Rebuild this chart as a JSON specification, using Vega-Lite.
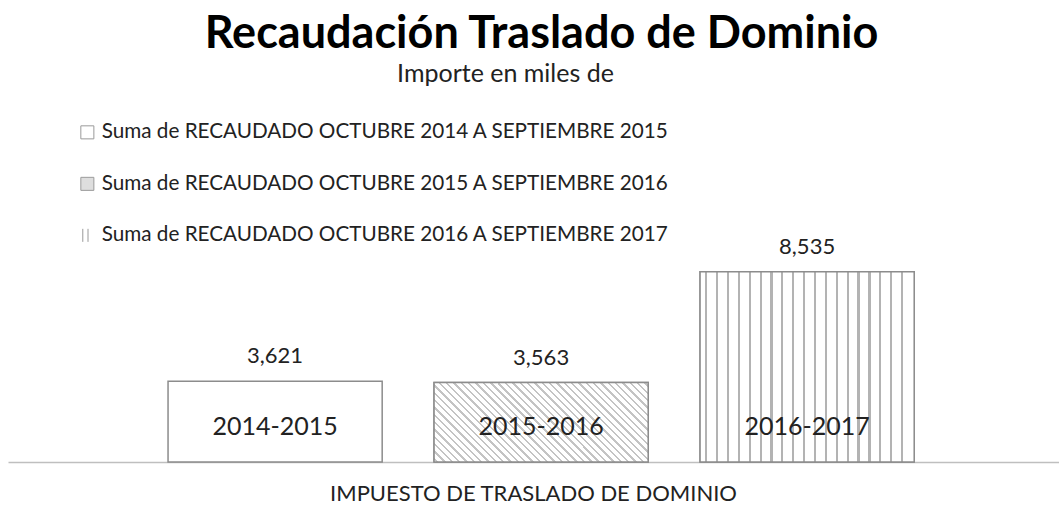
{
"$schema":"https://vega.github.io/schema/vega-lite/v6.json",
"width":1051,"height":223,
"padding":{"left":8,"top":12,"right":0,"bottom":0},
"autosize":{"type":"pad"},
"background":"#ffffff",
"config":{"view":{"stroke":null},"font":"Lato"},
"title":{"text":"Recaudación Traslado de Dominio","subtitle":"Importe en miles de\u2800\u2800\u2800\u2800","anchor":"middle","frame":"group","dx":8,"font":"Lato","fontSize":45,"fontWeight":"bold","color":"#000000","subtitleFont":"Lato","subtitleFontSize":25,"subtitleColor":"#222222","subtitlePadding":5,"offset":35},
"data":{"values":[
{"impuesto":"IMPUESTO DE TRASLADO DE DOMINIO","serie":"Suma de RECAUDADO OCTUBRE 2014 A SEPTIEMBRE 2015","periodo":"2014-2015","valor":3621},
{"impuesto":"IMPUESTO DE TRASLADO DE DOMINIO","serie":"Suma de RECAUDADO OCTUBRE 2015 A SEPTIEMBRE 2016","periodo":"2015-2016","valor":3563},
{"impuesto":"IMPUESTO DE TRASLADO DE DOMINIO","serie":"Suma de RECAUDADO OCTUBRE 2016 A SEPTIEMBRE 2017","periodo":"2016-2017","valor":8535}
]},
"encoding":{
"x":{"field":"impuesto","type":"nominal","scale":{"paddingInner":0,"paddingOuter":0},"axis":{"title":null,"labelAngle":0,"ticks":false,"domainColor":"#bfbfbf","domainWidth":1.5,"labelFontSize":22,"labelColor":"#222222","labelPadding":21,"labelFont":"Lato","labelLimit":1000}},
"xOffset":{"field":"serie","type":"nominal","scale":{"paddingInner":0.195,"paddingOuter":0.573,"align":0.525}},
"y":{"field":"valor","type":"quantitative","scale":{"domain":[0,10000],"nice":false},"axis":null}
},
"layer":[
{"mark":{"type":"bar","stroke":"#8c8c8c","strokeWidth":1.5},
 "encoding":{"color":{"field":"serie","type":"nominal","scale":{"range":["#ffffff","#dedede","#ffffff"]},
  "legend":{"orient":"none","legendX":69,"legendY":-117,"title":null,"labelFontSize":20.7,"labelColor":"#222222","labelFont":"Lato","symbolType":"square","symbolSize":170,"symbolStrokeColor":"#8c8c8c","symbolStrokeWidth":1,"rowPadding":29.5,"labelOffset":4,"labelLimit":900,
   "encode":{"symbols":{"update":{"shape":{"signal":"indexof(datum.label,'2016 A') >= 0 ? 'M-0.7,-1L-0.7,1M0.1,-1L0.1,1' : 'square'"},"stroke":{"value":"#9a9a9a"}}}}}}}},
{"transform":[{"filter":"datum.periodo === '2015-2016'"}],
 "mark":{"type":"bar","stroke":"#8c8c8c","strokeWidth":1.5,"fill":{"gradient":"linear","x1":0,"y1":1,"x2":1.205,"y2":0.553,"stops":[
{"offset":0,"color":"#fff"},
{"offset":0.0085,"color":"#fff"},{"offset":0.0085,"color":"#c4c4c4"},{"offset":0.0165,"color":"#c4c4c4"},{"offset":0.0165,"color":"#fff"},
{"offset":0.0335,"color":"#fff"},{"offset":0.0335,"color":"#c4c4c4"},{"offset":0.0415,"color":"#c4c4c4"},{"offset":0.0415,"color":"#fff"},
{"offset":0.0585,"color":"#fff"},{"offset":0.0585,"color":"#c4c4c4"},{"offset":0.0665,"color":"#c4c4c4"},{"offset":0.0665,"color":"#fff"},
{"offset":0.0835,"color":"#fff"},{"offset":0.0835,"color":"#c4c4c4"},{"offset":0.0915,"color":"#c4c4c4"},{"offset":0.0915,"color":"#fff"},
{"offset":0.1085,"color":"#fff"},{"offset":0.1085,"color":"#c4c4c4"},{"offset":0.1165,"color":"#c4c4c4"},{"offset":0.1165,"color":"#fff"},
{"offset":0.1335,"color":"#fff"},{"offset":0.1335,"color":"#c4c4c4"},{"offset":0.1415,"color":"#c4c4c4"},{"offset":0.1415,"color":"#fff"},
{"offset":0.1585,"color":"#fff"},{"offset":0.1585,"color":"#c4c4c4"},{"offset":0.1665,"color":"#c4c4c4"},{"offset":0.1665,"color":"#fff"},
{"offset":0.1835,"color":"#fff"},{"offset":0.1835,"color":"#c4c4c4"},{"offset":0.1915,"color":"#c4c4c4"},{"offset":0.1915,"color":"#fff"},
{"offset":0.2085,"color":"#fff"},{"offset":0.2085,"color":"#c4c4c4"},{"offset":0.2165,"color":"#c4c4c4"},{"offset":0.2165,"color":"#fff"},
{"offset":0.2335,"color":"#fff"},{"offset":0.2335,"color":"#c4c4c4"},{"offset":0.2415,"color":"#c4c4c4"},{"offset":0.2415,"color":"#fff"},
{"offset":0.2585,"color":"#fff"},{"offset":0.2585,"color":"#c4c4c4"},{"offset":0.2665,"color":"#c4c4c4"},{"offset":0.2665,"color":"#fff"},
{"offset":0.2835,"color":"#fff"},{"offset":0.2835,"color":"#c4c4c4"},{"offset":0.2915,"color":"#c4c4c4"},{"offset":0.2915,"color":"#fff"},
{"offset":0.3085,"color":"#fff"},{"offset":0.3085,"color":"#c4c4c4"},{"offset":0.3165,"color":"#c4c4c4"},{"offset":0.3165,"color":"#fff"},
{"offset":0.3335,"color":"#fff"},{"offset":0.3335,"color":"#c4c4c4"},{"offset":0.3415,"color":"#c4c4c4"},{"offset":0.3415,"color":"#fff"},
{"offset":0.3585,"color":"#fff"},{"offset":0.3585,"color":"#c4c4c4"},{"offset":0.3665,"color":"#c4c4c4"},{"offset":0.3665,"color":"#fff"},
{"offset":0.3835,"color":"#fff"},{"offset":0.3835,"color":"#c4c4c4"},{"offset":0.3915,"color":"#c4c4c4"},{"offset":0.3915,"color":"#fff"},
{"offset":0.4085,"color":"#fff"},{"offset":0.4085,"color":"#c4c4c4"},{"offset":0.4165,"color":"#c4c4c4"},{"offset":0.4165,"color":"#fff"},
{"offset":0.4335,"color":"#fff"},{"offset":0.4335,"color":"#c4c4c4"},{"offset":0.4415,"color":"#c4c4c4"},{"offset":0.4415,"color":"#fff"},
{"offset":0.4585,"color":"#fff"},{"offset":0.4585,"color":"#c4c4c4"},{"offset":0.4665,"color":"#c4c4c4"},{"offset":0.4665,"color":"#fff"},
{"offset":0.4835,"color":"#fff"},{"offset":0.4835,"color":"#c4c4c4"},{"offset":0.4915,"color":"#c4c4c4"},{"offset":0.4915,"color":"#fff"},
{"offset":0.5085,"color":"#fff"},{"offset":0.5085,"color":"#c4c4c4"},{"offset":0.5165,"color":"#c4c4c4"},{"offset":0.5165,"color":"#fff"},
{"offset":0.5335,"color":"#fff"},{"offset":0.5335,"color":"#c4c4c4"},{"offset":0.5415,"color":"#c4c4c4"},{"offset":0.5415,"color":"#fff"},
{"offset":0.5585,"color":"#fff"},{"offset":0.5585,"color":"#c4c4c4"},{"offset":0.5665,"color":"#c4c4c4"},{"offset":0.5665,"color":"#fff"},
{"offset":0.5835,"color":"#fff"},{"offset":0.5835,"color":"#c4c4c4"},{"offset":0.5915,"color":"#c4c4c4"},{"offset":0.5915,"color":"#fff"},
{"offset":0.6085,"color":"#fff"},{"offset":0.6085,"color":"#c4c4c4"},{"offset":0.6165,"color":"#c4c4c4"},{"offset":0.6165,"color":"#fff"},
{"offset":0.6335,"color":"#fff"},{"offset":0.6335,"color":"#c4c4c4"},{"offset":0.6415,"color":"#c4c4c4"},{"offset":0.6415,"color":"#fff"},
{"offset":0.6585,"color":"#fff"},{"offset":0.6585,"color":"#c4c4c4"},{"offset":0.6665,"color":"#c4c4c4"},{"offset":0.6665,"color":"#fff"},
{"offset":0.6835,"color":"#fff"},{"offset":0.6835,"color":"#c4c4c4"},{"offset":0.6915,"color":"#c4c4c4"},{"offset":0.6915,"color":"#fff"},
{"offset":0.7085,"color":"#fff"},{"offset":0.7085,"color":"#c4c4c4"},{"offset":0.7165,"color":"#c4c4c4"},{"offset":0.7165,"color":"#fff"},
{"offset":0.7335,"color":"#fff"},{"offset":0.7335,"color":"#c4c4c4"},{"offset":0.7415,"color":"#c4c4c4"},{"offset":0.7415,"color":"#fff"},
{"offset":0.7585,"color":"#fff"},{"offset":0.7585,"color":"#c4c4c4"},{"offset":0.7665,"color":"#c4c4c4"},{"offset":0.7665,"color":"#fff"},
{"offset":0.7835,"color":"#fff"},{"offset":0.7835,"color":"#c4c4c4"},{"offset":0.7915,"color":"#c4c4c4"},{"offset":0.7915,"color":"#fff"},
{"offset":0.8085,"color":"#fff"},{"offset":0.8085,"color":"#c4c4c4"},{"offset":0.8165,"color":"#c4c4c4"},{"offset":0.8165,"color":"#fff"},
{"offset":0.8335,"color":"#fff"},{"offset":0.8335,"color":"#c4c4c4"},{"offset":0.8415,"color":"#c4c4c4"},{"offset":0.8415,"color":"#fff"},
{"offset":0.8585,"color":"#fff"},{"offset":0.8585,"color":"#c4c4c4"},{"offset":0.8665,"color":"#c4c4c4"},{"offset":0.8665,"color":"#fff"},
{"offset":0.8835,"color":"#fff"},{"offset":0.8835,"color":"#c4c4c4"},{"offset":0.8915,"color":"#c4c4c4"},{"offset":0.8915,"color":"#fff"},
{"offset":0.9085,"color":"#fff"},{"offset":0.9085,"color":"#c4c4c4"},{"offset":0.9165,"color":"#c4c4c4"},{"offset":0.9165,"color":"#fff"},
{"offset":0.9335,"color":"#fff"},{"offset":0.9335,"color":"#c4c4c4"},{"offset":0.9415,"color":"#c4c4c4"},{"offset":0.9415,"color":"#fff"},
{"offset":0.9585,"color":"#fff"},{"offset":0.9585,"color":"#c4c4c4"},{"offset":0.9665,"color":"#c4c4c4"},{"offset":0.9665,"color":"#fff"},
{"offset":0.9835,"color":"#fff"},{"offset":0.9835,"color":"#c4c4c4"},{"offset":0.9915,"color":"#c4c4c4"},{"offset":0.9915,"color":"#fff"},
{"offset":1,"color":"#fff"}]}}},
{"transform":[{"filter":"datum.periodo === '2016-2017'"}],
 "mark":{"type":"bar","stroke":"#8c8c8c","strokeWidth":1.5,"fill":{"gradient":"linear","x1":0,"y1":0,"x2":1,"y2":0,"stops":[
{"offset":0,"color":"#fff"},
{"offset":0.024,"color":"#fff"},{"offset":0.024,"color":"#b3b3b3"},{"offset":0.034,"color":"#b3b3b3"},{"offset":0.034,"color":"#fff"},
{"offset":0.0748,"color":"#fff"},{"offset":0.0748,"color":"#b3b3b3"},{"offset":0.0848,"color":"#b3b3b3"},{"offset":0.0848,"color":"#fff"},
{"offset":0.1256,"color":"#fff"},{"offset":0.1256,"color":"#b3b3b3"},{"offset":0.1356,"color":"#b3b3b3"},{"offset":0.1356,"color":"#fff"},
{"offset":0.1764,"color":"#fff"},{"offset":0.1764,"color":"#b3b3b3"},{"offset":0.1864,"color":"#b3b3b3"},{"offset":0.1864,"color":"#fff"},
{"offset":0.2272,"color":"#fff"},{"offset":0.2272,"color":"#b3b3b3"},{"offset":0.2372,"color":"#b3b3b3"},{"offset":0.2372,"color":"#fff"},
{"offset":0.278,"color":"#fff"},{"offset":0.278,"color":"#b3b3b3"},{"offset":0.288,"color":"#b3b3b3"},{"offset":0.288,"color":"#fff"},
{"offset":0.3288,"color":"#fff"},{"offset":0.3288,"color":"#b3b3b3"},{"offset":0.3388,"color":"#b3b3b3"},{"offset":0.3388,"color":"#fff"},
{"offset":0.3796,"color":"#fff"},{"offset":0.3796,"color":"#b3b3b3"},{"offset":0.3896,"color":"#b3b3b3"},{"offset":0.3896,"color":"#fff"},
{"offset":0.4304,"color":"#fff"},{"offset":0.4304,"color":"#b3b3b3"},{"offset":0.4404,"color":"#b3b3b3"},{"offset":0.4404,"color":"#fff"},
{"offset":0.4812,"color":"#fff"},{"offset":0.4812,"color":"#b3b3b3"},{"offset":0.4912,"color":"#b3b3b3"},{"offset":0.4912,"color":"#fff"},
{"offset":0.532,"color":"#fff"},{"offset":0.532,"color":"#b3b3b3"},{"offset":0.542,"color":"#b3b3b3"},{"offset":0.542,"color":"#fff"},
{"offset":0.5828,"color":"#fff"},{"offset":0.5828,"color":"#b3b3b3"},{"offset":0.5928,"color":"#b3b3b3"},{"offset":0.5928,"color":"#fff"},
{"offset":0.6336,"color":"#fff"},{"offset":0.6336,"color":"#b3b3b3"},{"offset":0.6436,"color":"#b3b3b3"},{"offset":0.6436,"color":"#fff"},
{"offset":0.6844,"color":"#fff"},{"offset":0.6844,"color":"#b3b3b3"},{"offset":0.6944,"color":"#b3b3b3"},{"offset":0.6944,"color":"#fff"},
{"offset":0.7352,"color":"#fff"},{"offset":0.7352,"color":"#b3b3b3"},{"offset":0.7452,"color":"#b3b3b3"},{"offset":0.7452,"color":"#fff"},
{"offset":0.786,"color":"#fff"},{"offset":0.786,"color":"#b3b3b3"},{"offset":0.796,"color":"#b3b3b3"},{"offset":0.796,"color":"#fff"},
{"offset":0.8368,"color":"#fff"},{"offset":0.8368,"color":"#b3b3b3"},{"offset":0.8468,"color":"#b3b3b3"},{"offset":0.8468,"color":"#fff"},
{"offset":0.8876,"color":"#fff"},{"offset":0.8876,"color":"#b3b3b3"},{"offset":0.8976,"color":"#b3b3b3"},{"offset":0.8976,"color":"#fff"},
{"offset":0.9384,"color":"#fff"},{"offset":0.9384,"color":"#b3b3b3"},{"offset":0.9484,"color":"#b3b3b3"},{"offset":0.9484,"color":"#fff"},
{"offset":1,"color":"#fff"}]}}},
{"mark":{"type":"text","baseline":"middle","dy":-25,"fontSize":22,"font":"Lato","color":"#222222"},
 "encoding":{"text":{"field":"valor","type":"quantitative","format":","}}},
{"mark":{"type":"text","baseline":"middle","dy":-35,"fontSize":25,"font":"Lato","color":"#222222"},
 "encoding":{"y":{"datum":0},"text":{"field":"periodo","type":"nominal"}}}
]
}
